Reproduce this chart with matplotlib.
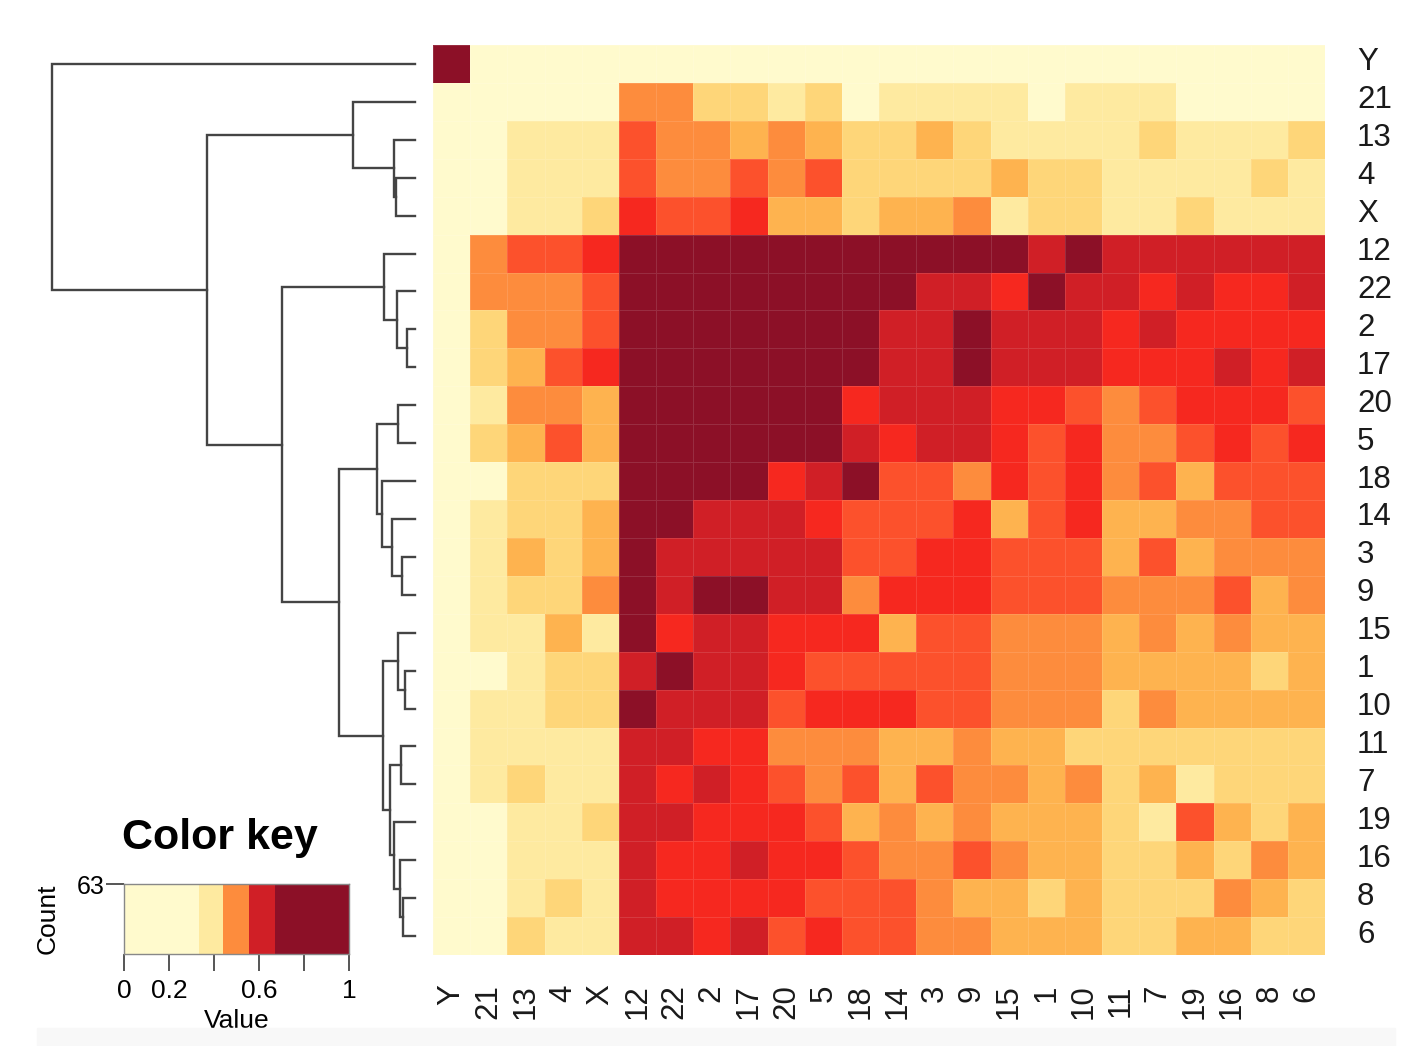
import numpy as np
import matplotlib.pyplot as plt
from matplotlib.colors import ListedColormap, BoundaryNorm
from matplotlib.patches import Rectangle
from matplotlib.transforms import ScaledTranslation

plt.rcParams['font.family'] = ['Liberation Sans', 'DejaVu Sans']

# row / column order of the clustered heatmap
labels = ["Y", "21", "13", "4", "X", "12", "22", "2", "17", "20", "5", "18",
          "14", "3", "9", "15", "1", "10", "11", "7", "19", "16", "8", "6"]

# colour level of every cell (0 = palest, 8 = darkest)
levels = [
    [8,0,0,0,0,0,0,0,0,0,0,0,0,0,0,0,0,0,0,0,0,0,0,0],
    [0,0,0,0,0,4,4,2,2,1,2,0,1,1,1,1,0,1,1,1,0,0,0,0],
    [0,0,1,1,1,5,4,4,3,4,3,2,2,3,2,1,1,1,1,2,1,1,1,2],
    [0,0,1,1,1,5,4,4,5,4,5,2,2,2,2,3,2,2,1,1,1,1,2,1],
    [0,0,1,1,2,6,5,5,6,3,3,2,3,3,4,1,2,2,1,1,2,1,1,1],
    [0,4,5,5,6,8,8,8,8,8,8,8,8,8,8,8,7,8,7,7,7,7,7,7],
    [0,4,4,4,5,8,8,8,8,8,8,8,8,7,7,6,8,7,7,6,7,6,6,7],
    [0,2,4,4,5,8,8,8,8,8,8,8,7,7,8,7,7,7,6,7,6,6,6,6],
    [0,2,3,5,6,8,8,8,8,8,8,8,7,7,8,7,7,7,6,6,6,7,6,7],
    [0,1,4,4,3,8,8,8,8,8,8,6,7,7,7,6,6,5,4,5,6,6,6,5],
    [0,2,3,5,3,8,8,8,8,8,8,7,6,7,7,6,5,6,4,4,5,6,5,6],
    [0,0,2,2,2,8,8,8,8,6,7,8,5,5,4,6,5,6,4,5,3,5,5,5],
    [0,1,2,2,3,8,8,7,7,7,6,5,5,5,6,3,5,6,3,3,4,4,5,5],
    [0,1,3,2,3,8,7,7,7,7,7,5,5,6,6,5,5,5,3,5,3,4,4,4],
    [0,1,2,2,4,8,7,8,8,7,7,4,6,6,6,5,5,5,4,4,4,5,3,4],
    [0,1,1,3,1,8,6,7,7,6,6,6,3,5,5,4,4,4,3,4,3,4,3,3],
    [0,0,1,2,2,7,8,7,7,6,5,5,5,5,5,4,4,4,3,3,3,3,2,3],
    [0,1,1,2,2,8,7,7,7,5,6,6,6,5,5,4,4,4,2,4,3,3,3,3],
    [0,1,1,1,1,7,7,6,6,4,4,4,3,3,4,3,3,2,2,2,2,2,2,2],
    [0,1,2,1,1,7,6,7,6,5,4,5,3,5,4,4,3,4,2,3,1,2,2,2],
    [0,0,1,1,2,7,7,6,6,6,5,3,4,3,4,3,3,3,2,1,5,3,2,3],
    [0,0,1,1,1,7,6,6,7,6,6,5,4,4,5,4,3,3,2,2,3,2,4,3],
    [0,0,1,2,1,7,6,6,6,6,5,5,5,4,3,3,2,3,2,2,2,4,3,2],
    [0,0,2,1,1,7,7,6,7,5,6,5,5,4,4,3,3,3,2,2,3,3,2,2],
]

palette = ["#FFFACD", "#FEEAA0", "#FED679", "#FEB34F", "#FD8C3D",
           "#FC512C", "#F6281F", "#D01F26", "#8C1027"]

# dendrogram: (height, left, right), heights scaled so the root is 1
tree = (1.0, "Y",
        (0.573,
         (0.171, "21", (0.058, "13", (0.052, "4", "X"))),
         (0.366,
          (0.085, "12", (0.050, "22", (0.022, "2", "17"))),
          (0.209,
           (0.105, (0.047, "20", "5"),
                   (0.091, "18", (0.063, "14", (0.036, "3", "9")))),
           (0.088, (0.047, "15", (0.028, "1", "10")),
                   (0.069, (0.039, "11", "7"),
                           (0.058, "19", (0.041, "16", (0.033, "8", "6")))))))))

# colour key
key_bounds = [0, 0.333, 0.44, 0.556, 0.67, 1.0]
key_colors = ["#FFFACD", "#FEEAA0", "#FD8C3D", "#D01F26", "#8C1027"]
key_count = 63

W, H = 1424, 1046
fig = plt.figure(figsize=(W / 100, H / 100), dpi=100)

def box(x0, y0, x1, y1):
    return [x0 / W, 1 - y1 / H, (x1 - x0) / W, (y1 - y0) / H]

# faint grey strip at the bottom
fig.patches.append(Rectangle((37 / W, 0), (1395 - 37) / W, 18 / H,
                             transform=fig.transFigure, color="#F8F8F8", zorder=0))

# heatmap
ax = fig.add_axes(box(433, 45, 1325, 955))
data = np.array(levels)
cmap = ListedColormap(palette)
norm = BoundaryNorm(np.arange(-0.5, 9.5, 1), cmap.N)
ax.pcolormesh(np.arange(25), np.arange(25), data, cmap=cmap, norm=norm,
              edgecolors=(1, 1, 1, 0.12), linewidth=0.6)
ax.set_xlim(0, 24)
ax.set_ylim(24, 0)
ax.set_xticks(np.arange(24) + 0.5)
ax.set_xticklabels(labels, rotation=90, fontsize=22.5, color="#1a1a1a")
ax.set_yticks(np.arange(24) + 0.5)
ax.set_yticklabels(labels, fontsize=22.5, color="#1a1a1a")
ax.yaxis.tick_right()
ax.tick_params(axis="x", length=0, pad=21)
ax.tick_params(axis="y", length=0, pad=23)
shift = ScaledTranslation(0, 5 / 100, fig.dpi_scale_trans)
for t in ax.get_yticklabels():
    t.set_transform(t.get_transform() + shift)
for s in ax.spines.values():
    s.set_visible(False)

# dendrogram
dax = fig.add_axes(box(52, 45, 415, 955))
dax.set_xlim(1.0, 0.0)
dax.set_ylim(24, 0)
dax.axis("off")

def draw(node):
    if isinstance(node, str):
        return 0.0, labels.index(node) + 0.5
    h, a, b = node
    ha, ya = draw(a)
    hb, yb = draw(b)
    dax.plot([ha, h, h, hb], [ya, ya, yb, yb], color="#444444", lw=1.7,
             clip_on=False, solid_joinstyle="miter")
    return h, (ya + yb) / 2

draw(tree)

# colour key
kax = fig.add_axes(box(124, 884, 349, 954))
for i, c in enumerate(key_colors):
    kax.axvspan(key_bounds[i], key_bounds[i + 1], color=c, lw=0)
kax.set_xlim(0, 1)
kax.set_ylim(0, key_count)
kax.set_xticks([0, 0.2, 0.4, 0.6, 0.8, 1.0])
kax.set_xticklabels(["0", "0.2", "", "0.6", "", "1"], fontsize=19)
kax.set_yticks([key_count])
kax.set_yticklabels([str(key_count)], fontsize=18)
kax.tick_params(axis="x", length=12, width=1.4, color="#555555", pad=6)
kax.tick_params(axis="y", length=13, width=1.4, color="#555555", pad=1)
for s in kax.spines.values():
    s.set_color("#888888")
    s.set_linewidth(1.0)
kax.set_xlabel("Value", fontsize=19, labelpad=4)
kax.set_ylabel("Count", fontsize=19, labelpad=12)
fig.text(220 / W, 1 - 838 / H, "Color key", fontsize=31, fontweight="bold",
         ha="center", va="center")

fig.savefig("out.png", dpi=100)
